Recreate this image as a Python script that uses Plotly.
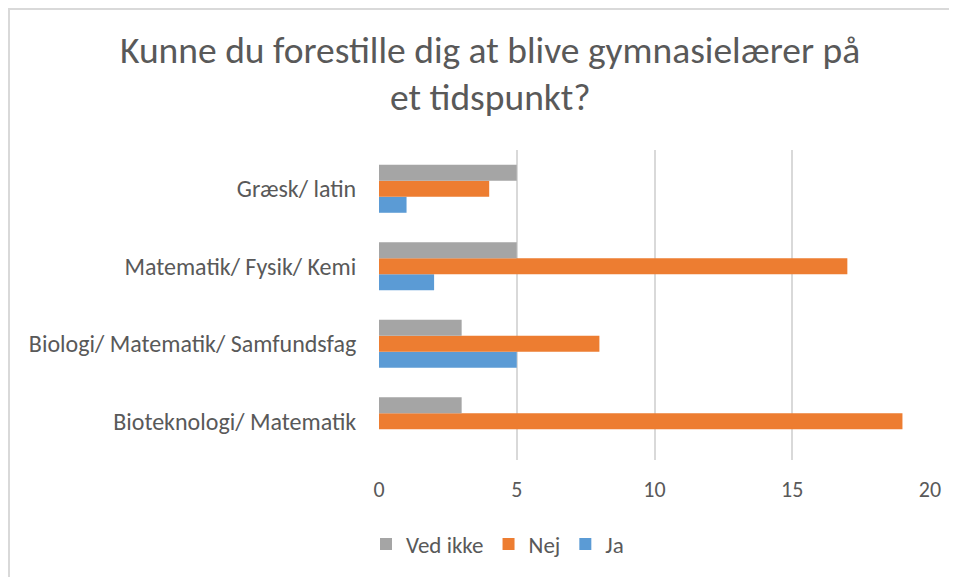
import plotly.graph_objects as go

categories = ["Bioteknologi/ Matematik", "Biologi/ Matematik/ Samfundsfag",
              "Matematik/ Fysik/ Kemi", "Græsk/ latin"]
ja = [0, 5, 2, 1]
nej = [19, 8, 17, 4]
ved_ikke = [3, 3, 5, 5]
x_ticks = [0, 5, 10, 15, 20]

FONT = "Carlito, Calibri, Lato, sans-serif"
TXT = "#595959"

# figure is placed at an 8px body margin inside the 957x577 window
W, H = 949, 569
L, R, T, B = 371, 27, 142, 117
pw, ph = W - L - R, H - T - B

def px(x):
    return (x - L) / pw

def py(y):
    return (H - B - y) / ph

fig = go.Figure()
fig.add_trace(go.Bar(y=categories, x=ja, name="Ja", orientation="h",
                     marker=dict(color="#5B9BD5", line=dict(width=0))))
fig.add_trace(go.Bar(y=categories, x=nej, name="Nej", orientation="h",
                     marker=dict(color="#ED7D31", line=dict(width=0))))
fig.add_trace(go.Bar(y=categories, x=ved_ikke, name="Ved ikke", orientation="h",
                     marker=dict(color="#A5A5A5", line=dict(width=0))))

fig.update_layout(
    width=W, height=H,
    margin=dict(l=L, r=R, t=T, b=B, autoexpand=False),
    paper_bgcolor="white", plot_bgcolor="white",
    barmode="group", bargap=0.38, bargroupgap=0,
    font=dict(family=FONT, color=TXT, size=22),
    showlegend=True,
    legend=dict(orientation="h", traceorder="reversed",
                x=px(358), xanchor="left", y=py(536), yanchor="middle",
                font=dict(size=23, color=TXT), itemwidth=30,
                bgcolor="rgba(0,0,0,0)"),
    xaxis=dict(range=[0, 20], tickvals=x_ticks, showgrid=True,
               gridcolor="#D9D9D9", gridwidth=1.5, zeroline=False,
               showline=False, ticks="outside", ticklen=10,
               tickcolor="rgba(0,0,0,0)", tickfont=dict(size=22, color=TXT),
               fixedrange=True),
    yaxis=dict(showgrid=False, zeroline=False, showline=False,
               ticks="outside", ticklen=17, tickcolor="rgba(0,0,0,0)",
               tickfont=dict(size=24, color=TXT), fixedrange=True),
    annotations=[
        dict(text="Kunne du forestille dig at blive gymnasielærer på",
             xref="paper", yref="paper", x=px(482), y=py(42),
             xanchor="center", yanchor="middle", showarrow=False,
             font=dict(size=37.5, color=TXT, family=FONT)),
        dict(text="et tidspunkt?",
             xref="paper", yref="paper", x=px(482), y=py(89),
             xanchor="center", yanchor="middle", showarrow=False,
             font=dict(size=37.5, color=TXT, family=FONT)),
    ],
    shapes=[
        dict(type="rect", xref="paper", yref="paper",
             x0=px(1), x1=px(990), y0=py(600), y1=py(1),
             line=dict(color="#D9D9D9", width=2), fillcolor="rgba(0,0,0,0)",
             layer="below"),
    ],
)

fig.write_html("out.html")
